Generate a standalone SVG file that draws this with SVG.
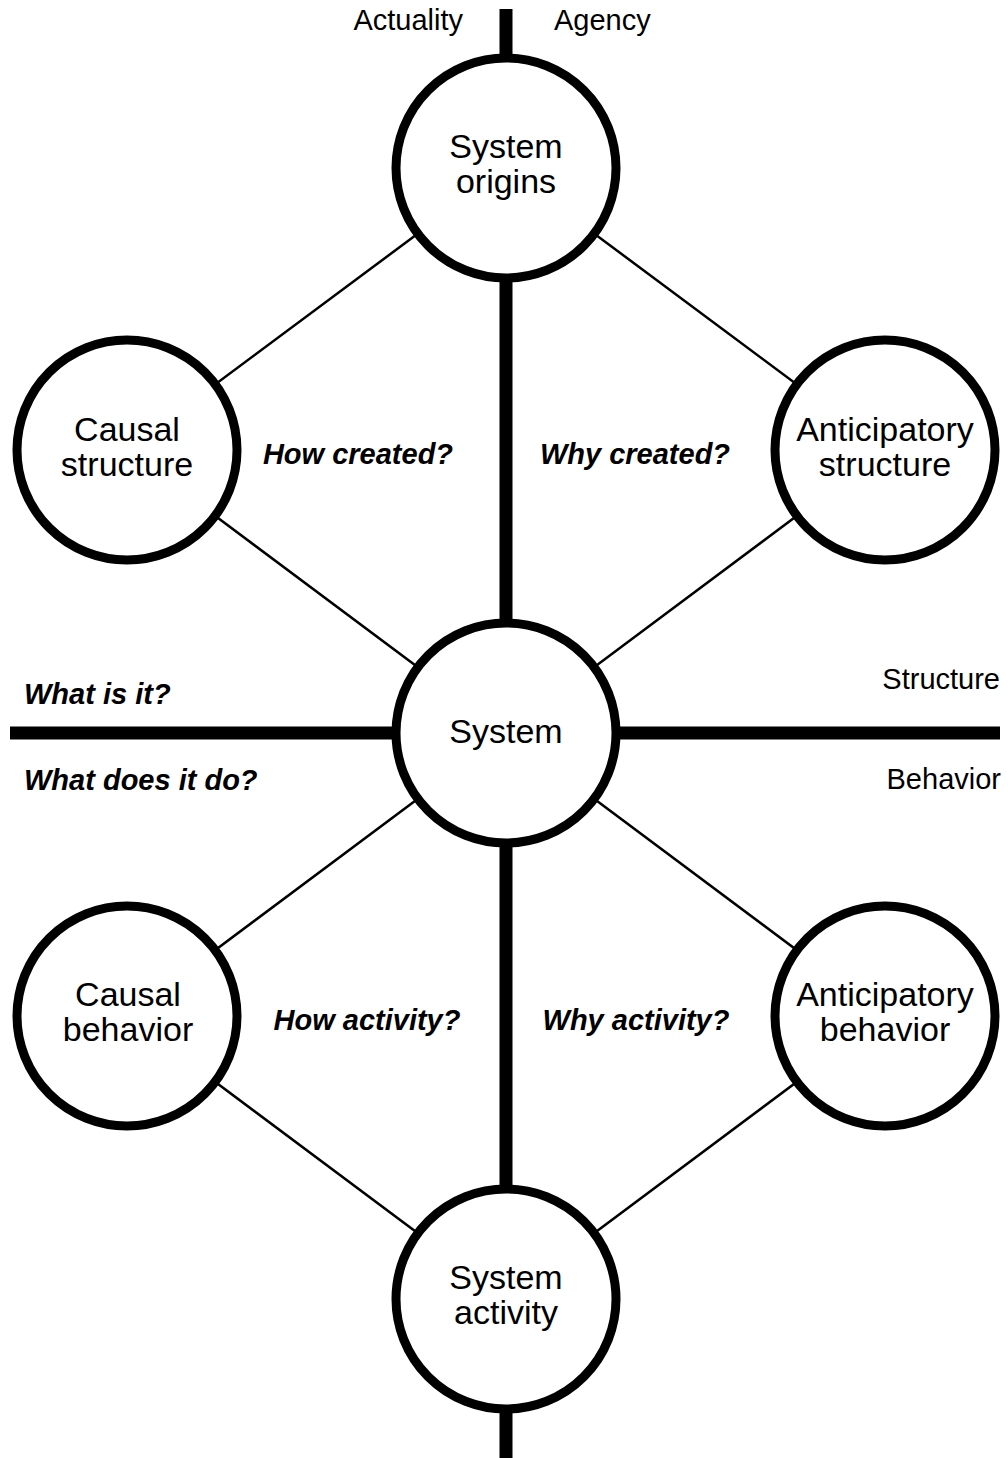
<svg xmlns="http://www.w3.org/2000/svg" width="1008" height="1458" viewBox="0 0 1008 1458">
<style>
.thin{stroke:#000;stroke-width:2.5;fill:none}
.thick{stroke:#000;stroke-width:13;fill:none}
.node{fill:#fff;stroke:#000;stroke-width:9}
.nt{font-family:"Liberation Sans",Arial,Helvetica,sans-serif;font-size:34px;fill:#000;text-anchor:middle}
.lb{font-family:"Liberation Sans",Arial,Helvetica,sans-serif;font-size:29px;fill:#000}
.q{font-family:"Liberation Sans",Arial,Helvetica,sans-serif;font-size:29px;font-weight:bold;font-style:italic;fill:#000}
</style>
<rect width="1008" height="1458" fill="#fff"/>
<g id="connectors">
<line class="thin" x1="506" y1="168" x2="127" y2="450"/>
<line class="thin" x1="506" y1="168" x2="885" y2="450"/>
<line class="thin" x1="127" y1="450" x2="506" y2="733"/>
<line class="thin" x1="885" y1="450" x2="506" y2="733"/>
<line class="thin" x1="506" y1="733" x2="127" y2="1016"/>
<line class="thin" x1="506" y1="733" x2="885" y2="1016"/>
<line class="thin" x1="127" y1="1016" x2="506" y2="1299"/>
<line class="thin" x1="885" y1="1016" x2="506" y2="1299"/>
<line class="thick" x1="506" y1="9" x2="506" y2="1458"/>
<line class="thick" x1="10" y1="733" x2="1000" y2="733"/>
</g>
<g id="labels">
<text class="lb" x="463" y="30" text-anchor="end">Actuality</text>
<text class="lb" x="554" y="30">Agency</text>
<text class="lb" x="1000" y="689" text-anchor="end">Structure</text>
<text class="lb" x="1001" y="789" text-anchor="end">Behavior</text>
<text class="q" x="24" y="704">What is it?</text>
<text class="q" x="24" y="790">What does it do?</text>
<text class="q" x="358" y="464" text-anchor="middle">How created?</text>
<text class="q" x="635" y="464" text-anchor="middle">Why created?</text>
<text class="q" x="367" y="1030" text-anchor="middle">How activity?</text>
<text class="q" x="636" y="1030" text-anchor="middle">Why activity?</text>
</g>
<g id="system-origins">
<circle class="node" cx="506" cy="168" r="110"/>
<text class="nt" x="506" y="158">System</text>
<text class="nt" x="506" y="193">origins</text>
</g>
<g id="causal-structure">
<circle class="node" cx="127" cy="450" r="110"/>
<text class="nt" x="127" y="441">Causal</text>
<text class="nt" x="127" y="476">structure</text>
</g>
<g id="anticipatory-structure">
<circle class="node" cx="885" cy="450" r="110"/>
<text class="nt" x="885" y="441">Anticipatory</text>
<text class="nt" x="885" y="476">structure</text>
</g>
<g id="system">
<circle class="node" cx="506" cy="733" r="110"/>
<text class="nt" x="506" y="743">System</text>
</g>
<g id="causal-behavior">
<circle class="node" cx="127" cy="1016" r="110"/>
<text class="nt" x="128" y="1006">Causal</text>
<text class="nt" x="128" y="1041">behavior</text>
</g>
<g id="anticipatory-behavior">
<circle class="node" cx="885" cy="1016" r="110"/>
<text class="nt" x="885" y="1006">Anticipatory</text>
<text class="nt" x="885" y="1041">behavior</text>
</g>
<g id="system-activity">
<circle class="node" cx="506" cy="1299" r="110"/>
<text class="nt" x="506" y="1289">System</text>
<text class="nt" x="506" y="1324">activity</text>
</g>
</svg>
